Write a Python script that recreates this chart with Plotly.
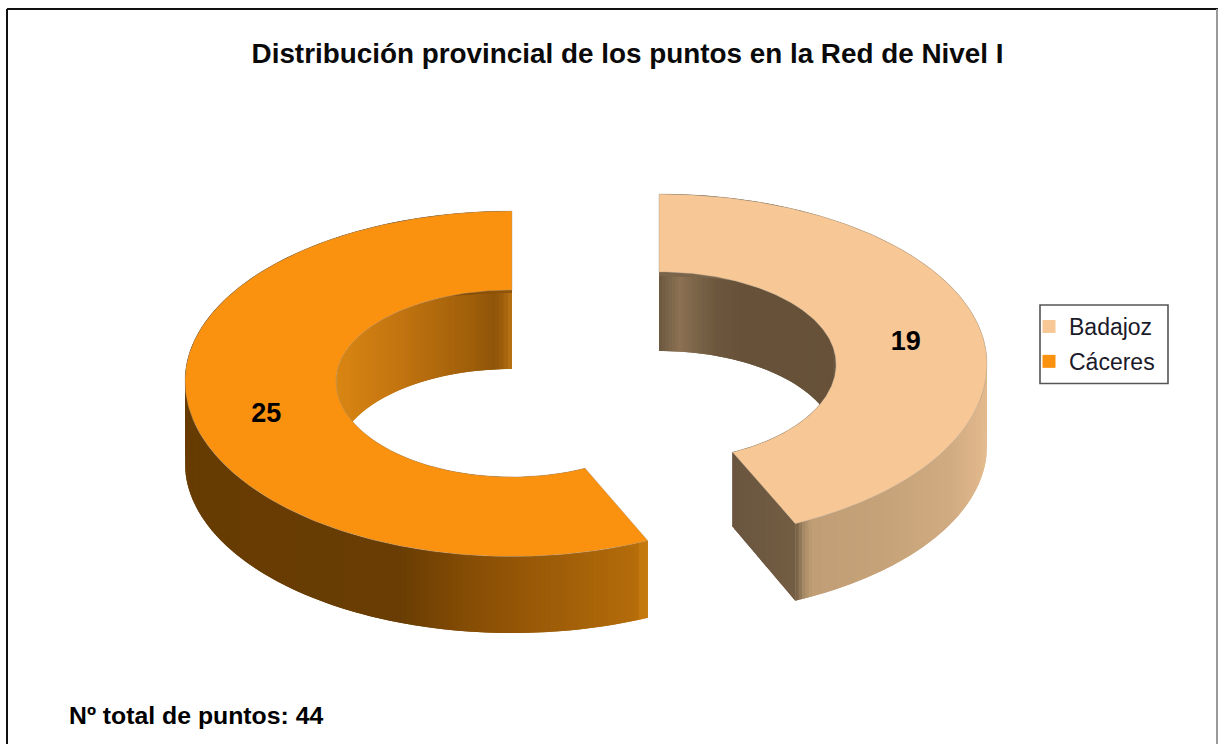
import numpy as np
import plotly.graph_objects as go

TITLE = "Distribución provincial de los puntos en la Red de Nivel I"
NOTE = "Nº total de puntos: 44"
provincias = ["Badajoz", "Cáceres"]
puntos = [19, 25]
colores = ["#F7C795", "#FA910F"]

W, H = 1218, 744
TOTAL = sum(puntos)

# projection of each exploded ring, in pixels of the 1218x744 frame
RINGS = {
    "Badajoz": dict(cx=659, cy=364, rx=328, ry=170, irx=177, iry=92, sign=1),
    "Cáceres": dict(cx=512, cy=381, rx=327, ry=170, irx=176, iry=91, sign=-1),
}
H_OUT, H_IN = 82, 79
FRONT_OUT, FRONT_IN = 5.5, 5.0   # the near half of the top face looks slightly deeper

SHADES = {
    "Badajoz": dict(
        inner=[(659, "#6B573F"), (668, "#7A6449"), (680, "#8C7152"), (695, "#7C6549"),
               (715, "#6D583F"), (740, "#675239"), (836, "#675239")],
        outer=[(797, "#7B654A"), (803, "#A38864"), (812, "#C29E76"), (880, "#C6A279"),
               (950, "#D0AB82"), (987, "#E3BA8D")],
        cut=[(733, "#6A5540"), (795, "#735D43")],
    ),
    "Cáceres": dict(
        inner=[(336, "#D98612"), (400, "#C27410"), (470, "#A05F0A"), (495, "#8E5509"),
               (505, "#A5630D"), (512, "#BC7612")],
        outer=[(185, "#673C03"), (400, "#693D03"), (480, "#8A4F05"), (560, "#A05E08"),
               (636, "#B56C0A"), (641, "#C4780D"), (648, "#C67A10")],
        cut=None,
    ),
}


def shade(stops, x):
    xs = [s[0] for s in stops]
    rgb = np.array([[int(s[1][i:i + 2], 16) for i in (1, 3, 5)] for s in stops], float)
    vals = [int(round(np.interp(x, xs, rgb[:, k]))) for k in range(3)]
    return "rgb(%d,%d,%d)" % tuple(vals)


def base(ring, rx, ry, t, drop=0.0):
    """Point on the plain ellipse, pushed down by drop."""
    return (ring["cx"] + ring["sign"] * rx * np.sin(t), ring["cy"] - ry * np.cos(t) + drop)


def top(ring, rx, ry, front, t):
    """Point on the top face, deeper on its near half."""
    t = np.asarray(t, float)
    c = np.cos(t)
    depth = np.where(c < 0, ry + front, ry)
    return (ring["cx"] + ring["sign"] * rx * np.sin(t), ring["cy"] - depth * c)


def poly(fig, xs, ys, color, line=None, lw=0):
    fig.add_trace(go.Scatter(
        x=list(xs) + [xs[0]], y=list(ys) + [ys[0]], mode="lines", fill="toself",
        fillcolor=color, line=dict(color=line or color, width=lw),
        hoverinfo="skip", showlegend=False))


def wall(fig, ring, rx, ry, front, h, span, stops, n):
    # strips are painted in order, each one reaching under the next, so no seams show
    edges = np.linspace(0, span, n + 1)
    for i in range(n):
        a, b = edges[i], edges[min(i + 2, n)]
        mid = edges[i + 1]
        p0 = top(ring, rx, ry, front, a)
        p1 = top(ring, rx, ry, front, b)
        q0 = base(ring, rx, ry, a, h)
        q1 = base(ring, rx, ry, b, h)
        pm = top(ring, rx, ry, front, mid)
        qm = base(ring, rx, ry, mid, h)
        xm = (p0[0] + pm[0]) / 2
        poly(fig, [p0[0], pm[0], p1[0], q1[0], qm[0], q0[0]],
             [p0[1], pm[1], p1[1], q1[1], qm[1], q0[1]], shade(stops, xm))


fig = go.Figure()

for name, value, color in zip(provincias, puntos, colores):
    ring = RINGS[name]
    span = 2 * np.pi * value / TOTAL
    st = SHADES[name]
    # back wall of the hole
    wall(fig, ring, ring["irx"], ring["iry"], FRONT_IN, H_IN, span, st["inner"], 150)
    # visible cut face
    if st["cut"]:
        a = top(ring, ring["irx"], ring["iry"], FRONT_IN, span)
        b = top(ring, ring["rx"], ring["ry"], FRONT_OUT, span)
        c = base(ring, ring["irx"], ring["iry"], span, H_IN)
        d = base(ring, ring["rx"], ring["ry"], span, H_OUT)
        m = 30
        for i in range(m):
            f0, f1 = i / m, min(i + 2, m) / m
            x0, x1 = a[0] + (b[0] - a[0]) * f0, a[0] + (b[0] - a[0]) * f1
            y0, y1 = a[1] + (b[1] - a[1]) * f0, a[1] + (b[1] - a[1]) * f1
            v0, v1 = c[1] + (d[1] - c[1]) * f0, c[1] + (d[1] - c[1]) * f1
            poly(fig, [x0, x1, x1, x0], [y0, y1, v1, v0], shade(st["cut"], (x0 + x1) / 2))
    # outer wall
    wall(fig, ring, ring["rx"], ring["ry"], FRONT_OUT, H_OUT, span, st["outer"], 240)
    # top face
    ts = np.linspace(0, span, 320)
    ox, oy = top(ring, ring["rx"], ring["ry"], FRONT_OUT, ts)
    ix, iy = top(ring, ring["irx"], ring["iry"], FRONT_IN, ts[::-1])
    poly(fig, list(ox) + list(ix), list(oy) + list(iy), color, line="rgba(150,145,140,0.35)", lw=1)
    # value label at the middle of the ring
    mx, my = base(ring, (ring["rx"] + ring["irx"]) / 2, (ring["ry"] + ring["iry"]) / 2, span / 2, 7)
    fig.add_trace(go.Scatter(
        x=[mx], y=[my], mode="text", text=[str(value)], textposition="middle center",
        textfont=dict(family="Liberation Sans", size=27, color="#000000", weight="bold"),
        hoverinfo="skip", showlegend=False))

# legend entries
for name, color in zip(provincias, colores):
    fig.add_trace(go.Scatter(
        x=[None], y=[None], mode="markers", name=name, legendgroup=name,
        marker=dict(symbol="square", size=13, color=color)))

frame = [
    dict(x0=7, x1=7, y0=9, y1=H, color="#111111", width=2),
    dict(x0=7, x1=W, y0=9, y1=9, color="#111111", width=2),
    dict(x0=1217, x1=1217, y0=9, y1=H, color="#9A9A9A", width=2),
]
shapes = [dict(type="line", xref="x", yref="y", x0=f["x0"], x1=f["x1"], y0=f["y0"], y1=f["y1"],
               line=dict(color=f["color"], width=f["width"])) for f in frame]
shapes.append(dict(type="rect", xref="x", yref="y", x0=1040, x1=1168, y0=305, y1=383.5,
                   line=dict(color="#555555", width=1.6), fillcolor="rgba(0,0,0,0)"))

fig.update_layout(
    width=W, height=H, margin=dict(l=0, r=0, t=0, b=0),
    paper_bgcolor="#FFFFFF", plot_bgcolor="#FFFFFF",
    xaxis=dict(range=[0, W], visible=False, fixedrange=True),
    yaxis=dict(range=[H, 0], visible=False, fixedrange=True),
    title=dict(text=TITLE, x=627.5 / W, xanchor="center", y=1 - 53 / H, yanchor="middle",
               font=dict(family="Liberation Sans", size=27.85, color="#0A0A0A", weight="bold")),
    legend=dict(x=1029 / W, xanchor="left", y=1 - 305 / H, yanchor="top",
                bgcolor="rgba(0,0,0,0)", borderwidth=0, traceorder="grouped", tracegroupgap=2,
                font=dict(family="Liberation Sans", size=23, color="#1A1A2A"),
                itemclick=False, itemdoubleclick=False),
    shapes=shapes,
    annotations=[dict(text=NOTE, xref="x", yref="y", x=67, y=715.5, xanchor="left", yanchor="middle",
                      showarrow=False,
                      font=dict(family="Liberation Sans", size=24.8, color="#000000", weight="bold"))],
    hovermode=False,
)

fig.write_html("out.html", config={"displayModeBar": False},
               post_script="document.body.style.margin='0';")
